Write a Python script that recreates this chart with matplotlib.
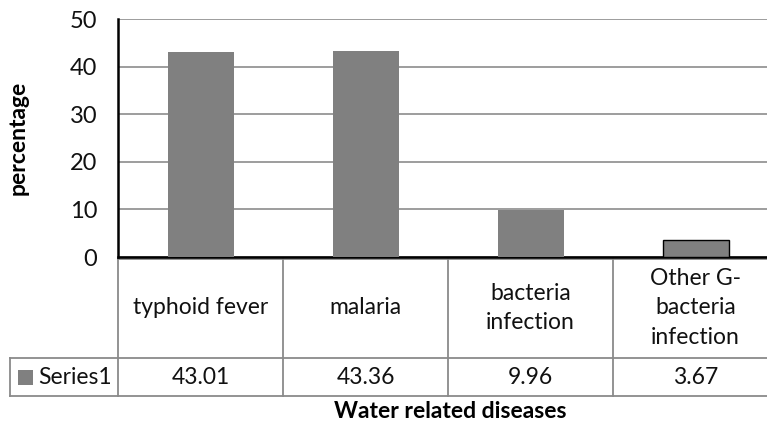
import matplotlib.pyplot as plt
import matplotlib.transforms as mtransforms
from matplotlib.patches import Rectangle

categories = ["typhoid fever", "malaria", "bacteria\ninfection", "Other G-\nbacteria\ninfection"]
values = [43.01, 43.36, 9.96, 3.67]
value_labels = ["43.01", "43.36", "9.96", "3.67"]
series_name = "Series1"

plt.rcParams['font.family'] = ['Lato', 'DejaVu Sans']

W, H = 767, 430
fig = plt.figure(figsize=(W / 100, H / 100), dpi=100)
# plot area in pixels: x 118..778, y 19..257
ax = fig.add_axes([118 / W, 1 - 257 / H, 660 / W, 238 / H])

x = list(range(len(values)))
bars = ax.bar(x, values, width=0.4, color="#808080", zorder=3)
bars[-1].set_edgecolor("black")
bars[-1].set_linewidth(1.0)

ax.set_xlim(-0.5, len(values) - 0.5)
ax.set_ylim(0, 50)
ax.set_yticks([0, 10, 20, 30, 40, 50])
ax.yaxis.grid(True, color="#8c8c8c", linewidth=1.2, zorder=0)
ax.set_xticks([])
ax.tick_params(axis="y", length=0, pad=15, labelsize=17, labelcolor="#111111")
for s in ["top", "right"]:
    ax.spines[s].set_visible(False)
ax.spines["left"].set_linewidth(1.8)
ax.spines["bottom"].set_linewidth(1.8)

# data table under the plot area
def fy(py):
    return 1 - py / H

def dx(px):
    return -0.5 + (px - 118) / 165.0

tr = mtransforms.blended_transform_factory(ax.transData, fig.transFigure)
gray = "#8a8a8a"
y_top, y_mid, y_bot = fy(259), fy(358), fy(396)
x_right = len(values) - 0.5
lkw = dict(color=gray, linewidth=1.3, transform=tr, clip_on=False)
ax.plot([-0.5, x_right], [y_top, y_top], **lkw)
ax.plot([dx(10), x_right], [y_mid, y_mid], **lkw)
ax.plot([dx(10), x_right], [y_bot, y_bot], **lkw)
ax.plot([dx(10), dx(10)], [y_mid, y_bot], **lkw)
for i in range(len(values)):
    ax.plot([i - 0.5, i - 0.5], [y_top, y_bot], **lkw)

for i, (cat, lab) in enumerate(zip(categories, value_labels)):
    ax.text(i, fy(308), cat, transform=tr, ha="center", va="center",
            fontsize=16.5, linespacing=1.5, color="#111111", clip_on=False)
    ax.text(i, fy(377), lab, transform=tr, ha="center", va="center",
            fontsize=16.5, color="#111111", clip_on=False)

# legend key in the table
fig.patches.append(Rectangle((18 / W, fy(385)), 15 / W, 15 / H,
                             transform=fig.transFigure, facecolor="#808080",
                             edgecolor="none"))
fig.text(38 / W, fy(377), series_name, ha="left", va="center",
         fontsize=16.5, color="#111111")

fig.text(450 / W, fy(411), "Water related diseases", ha="center", va="center",
         fontsize=16.5, fontweight="bold")
fig.text(18 / W, fy(138), "percentage", ha="center", va="center",
         fontsize=16.5, fontweight="bold", rotation=90)

fig.savefig("out.png", dpi=100)
